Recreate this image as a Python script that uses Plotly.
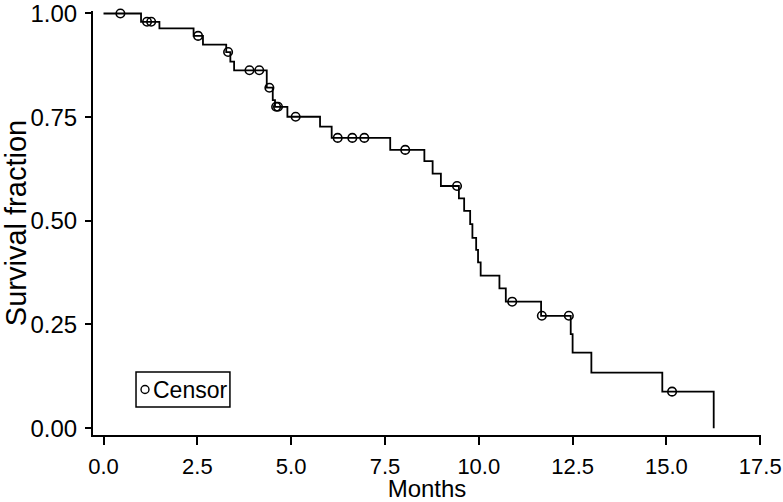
import plotly.graph_objects as go

# Kaplan-Meier step curve (event times in months, survival fraction after each step)
event_times = [0.0, 1.0, 1.49, 2.40, 2.65, 3.27, 3.38, 3.48, 4.35, 4.51, 4.57, 4.90,
               5.77, 6.08, 7.64, 8.55, 8.77, 8.99, 9.47, 9.61, 9.77, 9.83, 9.93, 9.98,
               10.05, 10.55, 10.72, 11.66, 12.45, 12.50, 13.0, 14.89, 16.26]
survival = [1.0, 0.98, 0.964, 0.946, 0.925, 0.907, 0.884, 0.863, 0.821, 0.791, 0.775, 0.751,
            0.727, 0.700, 0.671, 0.644, 0.614, 0.584, 0.554, 0.524, 0.492, 0.459, 0.430, 0.400,
            0.368, 0.337, 0.305, 0.271, 0.227, 0.182, 0.134, 0.088, 0.0]

# Censored observations
censor_times = [0.45, 1.16, 1.27, 2.52, 3.32, 3.89, 4.15, 4.42, 4.60, 4.65, 5.12,
                6.24, 6.63, 6.95, 8.04, 9.42, 10.89, 11.68, 12.40, 15.15]
censor_surv = [1.0, 0.98, 0.98, 0.946, 0.907, 0.863, 0.863, 0.821, 0.775, 0.775, 0.751,
               0.700, 0.700, 0.700, 0.671, 0.584, 0.305, 0.271, 0.271, 0.088]

x_ticks = [0.0, 2.5, 5.0, 7.5, 10.0, 12.5, 15.0, 17.5]
y_ticks = [0.0, 0.25, 0.50, 0.75, 1.00]
legend_label = "Censor"

FONT = "Liberation Sans, Arial, Helvetica, sans-serif"

fig = go.Figure()
fig.add_trace(go.Scatter(
    x=event_times, y=survival, mode="lines", line_shape="hv",
    line=dict(color="black", width=1.8), showlegend=False, hoverinfo="skip"))
fig.add_trace(go.Scatter(
    x=censor_times, y=censor_surv, mode="markers", name=legend_label, showlegend=False,
    marker=dict(symbol="circle-open", size=8.5, color="black", line=dict(width=1.6, color="black")),
    cliponaxis=False))

# compact legend box drawn in paper coordinates
fig.add_shape(type="rect", xref="paper", yref="paper", x0=0.0644, x1=0.205, y0=0.066, y1=0.1485,
              line=dict(color="black", width=1.5), fillcolor="white", layer="above")
fig.add_shape(type="circle", xref="paper", yref="paper", x0=0.0719, x1=0.0838, y0=0.0978, y1=0.1167,
              line=dict(color="black", width=1.4), layer="above")
fig.add_annotation(text=legend_label, xref="paper", yref="paper", x=0.0875, y=0.1072,
                   xanchor="left", yanchor="middle", showarrow=False,
                   font=dict(size=23, color="black", family=FONT))

fig.update_layout(
    width=783, height=502,
    margin=dict(l=93, r=22, t=11, b=67),
    plot_bgcolor="white", paper_bgcolor="white",
    font=dict(family=FONT, size=21, color="black"),
    showlegend=False,
    xaxis=dict(range=[-0.28, 17.52], tickvals=x_ticks, ticktext=[f"{v:.1f}" for v in x_ticks],
               showline=True, linecolor="black", linewidth=2, ticks="outside", ticklen=8,
               tickwidth=2, tickcolor="black", showgrid=False, zeroline=False, automargin=False,
               tickfont=dict(size=22), ticklabeloverflow="allow", ticklabelstandoff=3,
               title=dict(text="Months", font=dict(size=24), standoff=1)),
    yaxis=dict(range=[-0.0165, 1.006], tickvals=y_ticks, ticktext=[f"{v:.2f}" for v in y_ticks],
               showline=True, linecolor="black", linewidth=2, ticks="outside", ticklen=6,
               tickwidth=2, tickcolor="black", showgrid=False, zeroline=False, automargin=False,
               tickfont=dict(size=24), ticklabeloverflow="allow", ticklabelstandoff=3,
               title=dict(text="Survival fraction", font=dict(size=29), standoff=5)),
)

fig.write_html("out.html", config={"displayModeBar": False},
               post_script="document.body.style.margin='0';document.body.style.padding='0';")
